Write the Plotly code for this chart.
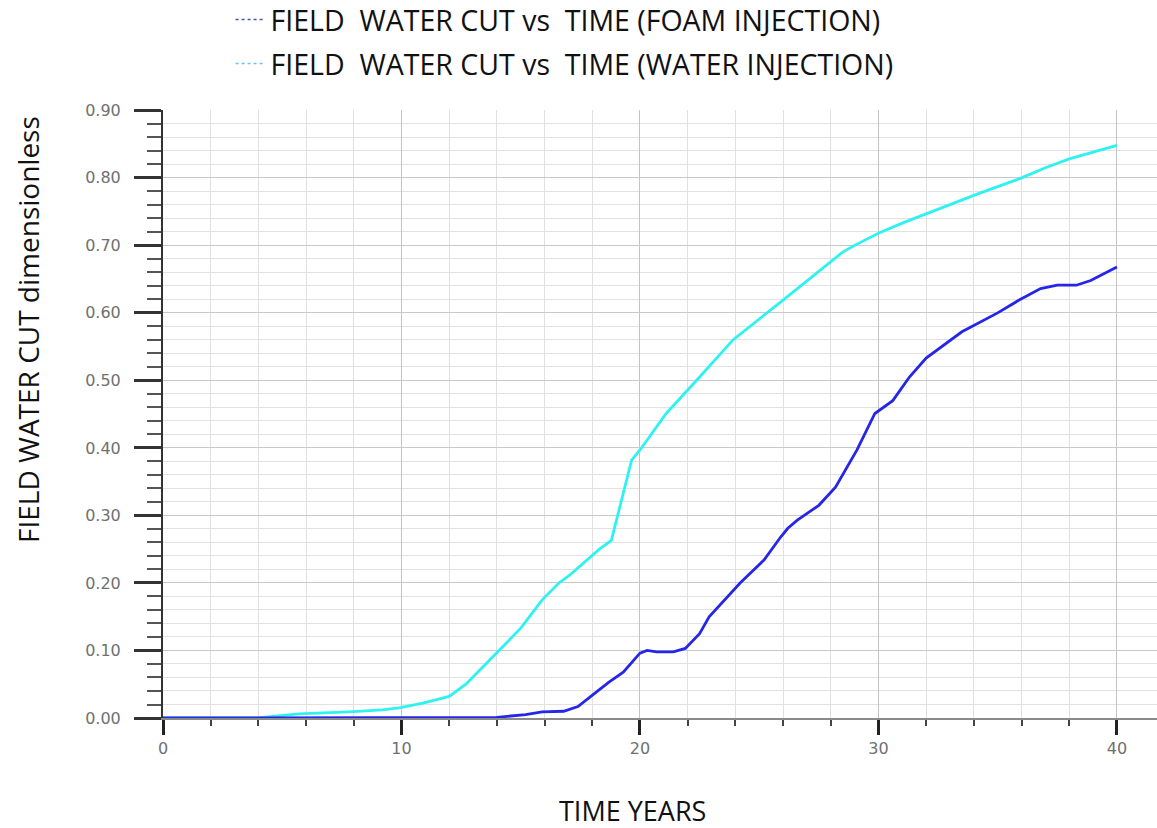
import plotly.graph_objects as go

# Water injection case (cyan)
water_t = [0, 4, 4.5, 5.7, 7.8, 9.2, 9.9, 10.9, 12, 12.7, 13.7, 14.5, 15, 15.9, 16.6, 17, 17.8,
           18.3, 18.8, 19.65, 20, 21.1, 22.5, 23.9, 26, 28.1, 28.5, 29, 30, 31, 32, 33, 34, 35,
           36, 37, 38, 39, 40]
water_v = [0, 0, 0.002, 0.006, 0.009, 0.012, 0.015, 0.022, 0.032, 0.05, 0.086, 0.115, 0.133, 0.175,
           0.20, 0.21, 0.234, 0.25, 0.263, 0.382, 0.397, 0.451, 0.505, 0.56, 0.619, 0.678, 0.69,
           0.70, 0.718, 0.733, 0.747, 0.76, 0.774, 0.787, 0.80, 0.815, 0.828, 0.838, 0.848]

# Foam injection case (blue)
foam_t = [0, 10, 14, 15.2, 15.9, 16.8, 17.4, 17.9, 18.7, 19.3, 20, 20.3, 20.7, 21.4, 21.9, 22.5,
          22.9, 24.2, 25.2, 25.9, 26.2, 26.6, 27.5, 28.2, 29.1, 29.85, 30.6, 31.3, 32, 33.5, 35,
          35.9, 36.8, 37.5, 38.3, 38.9, 40]
foam_v = [0, 0, 0.001, 0.005, 0.009, 0.01, 0.017, 0.031, 0.053, 0.068, 0.096, 0.10, 0.098, 0.098,
          0.103, 0.125, 0.15, 0.2, 0.234, 0.268, 0.281, 0.293, 0.315, 0.342, 0.397, 0.451, 0.47,
          0.505, 0.533, 0.572, 0.6, 0.619, 0.636, 0.641, 0.641, 0.648, 0.668]

legend_names = ["FIELD  WATER CUT vs  TIME (FOAM INJECTION)",
                "FIELD  WATER CUT vs  TIME (WATER INJECTION)"]
x_title = "TIME YEARS"
y_title = "FIELD WATER CUT dimensionless"

FOAM_C = "#2626e6"
WATER_C = "#2ef2f2"

fig = go.Figure()
fig.add_trace(go.Scatter(x=water_t, y=water_v, mode="lines", showlegend=False,
                         line=dict(color=WATER_C, width=2.8)))
fig.add_trace(go.Scatter(x=foam_t, y=foam_v, mode="lines", showlegend=False,
                         line=dict(color=FOAM_C, width=2.8)))
# legend entries (dotted symbols as in the original)
fig.add_trace(go.Scatter(x=[None], y=[None], mode="lines", name=legend_names[0],
                         legendgroup="a", line=dict(color="#3b5b9c", width=1.5, dash="dot")))
fig.add_trace(go.Scatter(x=[None], y=[None], mode="lines", name=legend_names[1],
                         legendgroup="b", line=dict(color="#6cc4e8", width=1.5, dash="dot")))

TICKFONT = dict(family="DejaVu Sans", size=16, color="#707070")

fig.update_layout(
    width=1157, height=828,
    margin=dict(l=163, r=0, t=110, b=110, autoexpand=False),
    paper_bgcolor="white", plot_bgcolor="white",
    legend=dict(x=0.068, y=1.19, xanchor="left", yanchor="top",
                font=dict(family="Open Sans", size=28.5, color="#111"),
                traceorder="grouped", tracegroupgap=4, bgcolor="rgba(0,0,0,0)"),
    xaxis=dict(range=[0, 41.68], tickmode="linear", tick0=0, dtick=10,
               showgrid=True, gridcolor="#c4c4c4", gridwidth=1.3,
               showline=True, linecolor="#8a8a8a", linewidth=2,
               ticks="outside", ticklen=15, tickwidth=3, tickcolor="#222",
               tickfont=TICKFONT, zeroline=False,
               minor=dict(dtick=2, showgrid=True, gridcolor="#e0e0e0", gridwidth=1.3,
                          ticks="outside", ticklen=6, tickwidth=1.5, tickcolor="#444")),
    yaxis=dict(range=[0, 0.9005], tickmode="linear", tick0=0, dtick=0.1, tickformat=".2f",
               showgrid=True, gridcolor="#c8c8c8", gridwidth=1.3,
               showline=True, linecolor="#333", linewidth=2,
               ticks="outside", ticklen=27, tickwidth=3, tickcolor="#333",
               tickfont=TICKFONT, zeroline=False, ticklabelstandoff=10,
               minor=dict(dtick=0.02, showgrid=True, gridcolor="#e2e2e2", gridwidth=1.3,
                          ticks="outside", ticklen=14, tickwidth=2, tickcolor="#555")),
    annotations=[
        dict(text=x_title, xref="paper", yref="paper", x=(632 - 163) / 994, y=(718 - 810) / 608,
             xanchor="center", yanchor="middle", showarrow=False,
             font=dict(family="Open Sans", size=27, color="#111")),
        dict(text=y_title, xref="paper", yref="paper", x=(28 - 163) / 994, y=(718 - 330) / 608,
             xanchor="center", yanchor="middle", showarrow=False, textangle=-90,
             font=dict(family="Open Sans", size=28, color="#111")),
    ],
)

# remove the browser's default 8px body margin so the figure fills the window exactly
fig.write_html("out.html", config={"displayModeBar": False},
               post_script="document.body.style.margin='0';")
